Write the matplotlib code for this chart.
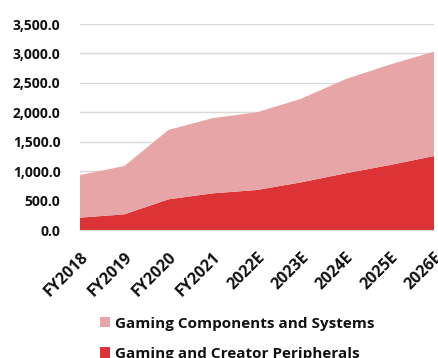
import matplotlib.pyplot as plt
from matplotlib.patches import Patch
from matplotlib.ticker import FuncFormatter

plt.rcParams['font.family'] = ['Open Sans', 'DejaVu Sans']
plt.rcParams['font.weight'] = 'bold'

# Revenue by segment (stacked)
years = ['FY2018', 'FY2019', 'FY2020', 'FY2021', '2022E', '2023E', '2024E', '2025E', '2026E']
peripherals = [210, 266, 521, 623, 680, 810, 963, 1104, 1256]
components = [724, 821, 1179, 1277, 1320, 1420, 1600, 1706, 1774]

red = '#dc3337'
pink = '#e8a5a7'

fig = plt.figure(figsize=(4.38, 3.58), dpi=100)
ax = fig.add_axes([80 / 438, 128 / 358, 354 / 438, 206 / 358])

x = list(range(len(years)))
ax.stackplot(x, peripherals, components, colors=[red, pink], linewidth=0)

ax.set_xlim(0, len(years) - 1)
ax.set_ylim(0, 3500)
ax.set_yticks(range(0, 3501, 500))
ax.yaxis.set_major_formatter(FuncFormatter(lambda v, p: f'{v:,.1f}'))
ax.set_xticks(x)
ax.set_xticklabels(years, rotation=45, ha='right', rotation_mode='anchor')

ax.grid(axis='y', color='#d9d9d9', linewidth=1)
ax.set_axisbelow(True)
for s in ['top', 'right', 'left']:
    ax.spines[s].set_visible(False)
ax.spines['bottom'].set_color('#d9d9d9')
ax.tick_params(axis='both', length=0, labelsize=10, colors='#111111')
ax.tick_params(axis='y', pad=14)
ax.tick_params(axis='x', labelsize=11.5, pad=14)

handles = [Patch(facecolor=pink, label='Gaming Components and Systems'),
           Patch(facecolor=red, label='Gaming and Creator Peripherals')]
fig.legend(handles=handles, loc='upper left', bbox_to_anchor=(86 / 438, 1 - 303 / 358),
           frameon=False, fontsize=11, handlelength=0.65, handleheight=0.65,
           handletextpad=0.35, labelspacing=1.05, labelcolor='#111111')

fig.savefig('out.png', dpi=100)
